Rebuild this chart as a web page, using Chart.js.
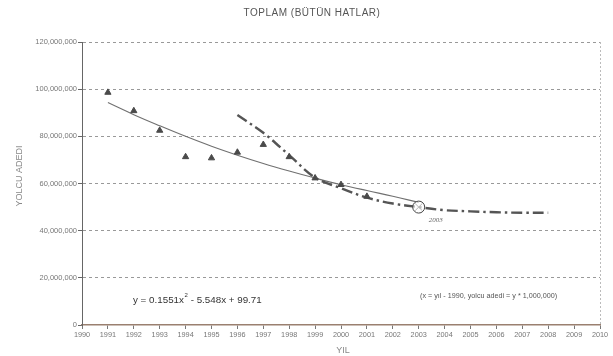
<!DOCTYPE html>
<html>
<head>
<meta charset="utf-8">
<script src="https://cdn.jsdelivr.net/npm/chart.js@4/dist/chart.umd.min.js"></script>
<style>
  html, body { margin: 0; padding: 0; background: #fff; }
  #wrap { width: 613px; height: 356px; }
</style>
</head>
<body>
<div id="wrap"><canvas id="myChart" width="613" height="356"></canvas></div>
<script>
// values in millions of passengers
const obsYears = [1991, 1992, 1993, 1994, 1995, 1996, 1997, 1998, 1999, 2000, 2001];
const obsValues = [98.6, 90.8, 82.5, 71.3, 70.8, 73.2, 76.5, 71.3, 62.3, 59.5, 54.5];

const trendYears = [1991, 1992, 1993, 1994, 1995, 1996, 1997, 1998, 1999, 2000, 2001, 2002, 2003];
const trendValues = [94.3, 89.2, 84.5, 80.0, 75.8, 72.0, 68.5, 65.3, 62.3, 59.5, 57.0, 54.6, 52.0];

const projYears = [1996, 1997, 1998, 1999, 2000, 2001, 2002, 2003, 2004, 2005, 2006, 2007, 2008];
const projValues = [89.0, 81.5, 72.0, 62.5, 58.0, 54.0, 51.5, 50.0, 48.7, 48.2, 47.8, 47.6, 47.6];

const markYear = 2003;
const markValue = 50.0;

const yTicks = [0, 20, 40, 60, 80, 100, 120];

const toXY = (xs, ys) => xs.map((x, i) => ({ x: x, y: ys[i] }));
const fmt = (v) => (v * 1000000).toLocaleString('en-US');

const FONT = '"Liberation Sans", Arial, sans-serif';

// texts drawn on the canvas at fixed spots
const textPlugin = {
  id: 'texts',
  afterDraw(chart) {
    const c = chart.ctx;
    const xs = chart.scales.x, ys = chart.scales.y;
    c.save();
    c.textBaseline = 'middle';

    c.fillStyle = '#555';
    c.font = '10px ' + FONT;
    c.textAlign = 'center';
    c.letterSpacing = '0.5px';
    c.fillText('TOPLAM (BÜTÜN HATLAR)', 312, 13);
    c.letterSpacing = '0px';

    c.fillStyle = '#888';
    c.font = '9px ' + FONT;
    c.fillText('YIL', 343, 351);

    c.save();
    c.translate(20, 176);
    c.rotate(-Math.PI / 2);
    c.fillText('YOLCU ADEDI', 0, 0);
    c.restore();

    // equation
    c.fillStyle = '#333';
    c.textAlign = 'left';
    c.font = '9.8px ' + FONT;
    let x = 133;
    const part1 = 'y = 0.1551x';
    c.fillText(part1, x, 300);
    x += c.measureText(part1).width;
    c.font = '6px ' + FONT;
    c.fillText('2', x + 0.5, 295);
    x += 4;
    c.font = '9.8px ' + FONT;
    c.fillText(' - 5.548x + 99.71', x, 300);

    // note
    c.fillStyle = '#555';
    c.font = '7.2px ' + FONT;
    c.fillText('(x = yıl - 1990, yolcu adedi = y * 1,000,000)', 420, 296);

    // marker label
    c.font = 'italic 7px "Liberation Serif", serif';
    c.fillStyle = '#666';
    c.textAlign = 'center';
    c.fillText(String(markYear), xs.getPixelForValue(markYear) + 17, ys.getPixelForValue(markValue) + 13);
    c.restore();
  }
};

const ctx = document.getElementById('myChart');

const dataset = {
  datasets: [
    {
      label: 'gözlem',
      type: 'scatter',
      data: toXY(obsYears, obsValues),
      pointStyle: 'triangle',
      pointRadius: 3.6,
      backgroundColor: '#4a4a4a',
      borderColor: '#4a4a4a',
      borderWidth: 1,
      order: 1
    },
    {
      label: 'trend',
      type: 'line',
      data: toXY(trendYears, trendValues),
      borderColor: '#707070',
      borderWidth: 1.1,
      pointRadius: 0,
      tension: 0.4,
      fill: false,
      order: 3
    },
    {
      label: 'tahmin',
      type: 'line',
      data: toXY(projYears, projValues),
      borderColor: '#555',
      borderWidth: 2.4,
      borderDash: [11, 4, 2.5, 4],
      pointRadius: 0,
      tension: 0.35,
      fill: false,
      order: 2
    },
    {
      label: '2003',
      type: 'scatter',
      data: [{ x: markYear, y: markValue }],
      pointStyle: 'circle',
      pointRadius: 6,
      backgroundColor: 'rgba(255,255,255,0.6)',
      borderColor: '#444',
      borderWidth: 1,
      order: 0
    },
    {
      label: '2003x',
      type: 'scatter',
      data: [{ x: markYear, y: markValue }],
      pointStyle: 'crossRot',
      pointRadius: 5,
      borderColor: '#444',
      borderWidth: 1,
      order: 0
    }
  ]
};

const config = {
  type: 'scatter',
  data: dataset,
  plugins: [textPlugin],
  options: {
    responsive: false,
    animation: false,
    layout: { padding: { left: 0, right: 13, top: 42, bottom: 0 } },
    plugins: {
      legend: { display: false },
      tooltip: { enabled: false },
      title: { display: false }
    },
    scales: {
      x: {
        type: 'linear',
        min: 1990,
        max: 2010,
        afterFit: (s) => { s.height = 31; },
        ticks: {
          stepSize: 1,
          autoSkip: false,
          maxRotation: 0,
          padding: 2,
          color: '#777',
          font: { family: FONT, size: 7.3 },
          callback: (v) => String(v)
        },
        grid: {
          color: (c) => (c.tick && c.tick.value === 2010 ? '#bbb' : 'rgba(0,0,0,0)'),
          lineWidth: 1,
          drawTicks: true,
          tickLength: 4,
          tickColor: '#777',
          tickBorderDash: []
        },
        border: { display: true, color: '#9a8070', width: 1.5, dash: [2, 2] }
      },
      y: {
        min: 0,
        max: 120,
        afterFit: (s) => { s.width = 82; },
        afterBuildTicks: (s) => { s.ticks = yTicks.map(v => ({ value: v })); },
        ticks: {
          padding: 1,
          color: '#777',
          font: { family: FONT, size: 7.5 },
          callback: (v) => fmt(v)
        },
        grid: {
          color: (c) => (c.tick && c.tick.value === 0 ? 'rgba(0,0,0,0)' : '#999'),
          lineWidth: 1,
          drawTicks: true,
          tickLength: 4,
          tickColor: '#666',
          tickBorderDash: []
        },
        border: { display: true, color: '#666', width: 1, dash: [3, 3] }
      }
    }
  }
};

const chart = new Chart(ctx, config);
</script>
</body>
</html>
